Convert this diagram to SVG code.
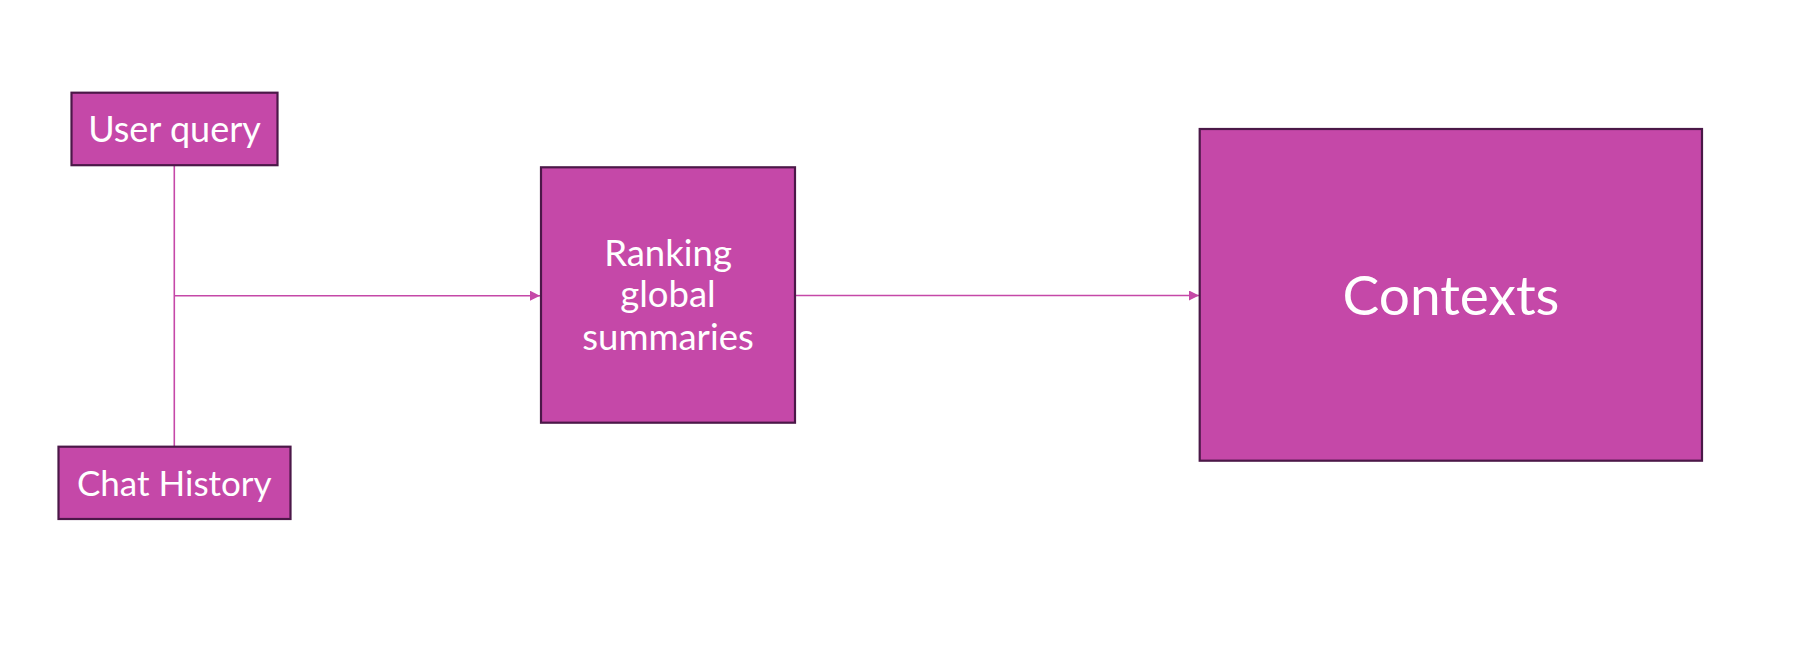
<svg xmlns="http://www.w3.org/2000/svg" width="1798" height="652" viewBox="0 0 1798 652">
<style>
.box{fill:#C548A8;stroke:#4B1848;stroke-width:2.2}
.lbl{fill:#FFFFFF;font-family:Lato,"Noto Sans","Liberation Sans",sans-serif;text-anchor:middle}
.conn{fill:none;stroke:#C548A8;stroke-width:1.6}
</style>
<defs>
<marker id="arr" viewBox="0 0 10 10" refX="10" refY="5" markerWidth="10" markerHeight="10" markerUnits="userSpaceOnUse" orient="auto">
<path d="M0,0 L10,5 L0,10 Z" fill="#C548A8"/>
</marker>
</defs>
<rect width="1798" height="652" fill="#FFFFFF"/>
<g id="connectors">
<line class="conn" x1="174.3" y1="165" x2="174.3" y2="447"/>
<line class="conn" x1="174.3" y1="295.7" x2="540" y2="295.7" marker-end="url(#arr)"/>
<line class="conn" x1="795" y1="295.5" x2="1199" y2="295.5" marker-end="url(#arr)"/>
</g>
<g id="user-query">
<rect class="box" x="71.5" y="92.7" width="206" height="72.5"/>
<text class="lbl" x="174.5" y="141.7" font-size="36">User query</text>
</g>
<g id="chat-history">
<rect class="box" x="58.5" y="446.7" width="232" height="72.3"/>
<text class="lbl" x="174.3" y="496" font-size="35">Chat History</text>
</g>
<g id="ranking">
<rect class="box" x="541" y="167.3" width="254" height="255.4"/>
<text class="lbl" x="668" y="266" font-size="36.5">Ranking</text>
<text class="lbl" x="668" y="307" font-size="36.5">global</text>
<text class="lbl" x="668" y="349.5" font-size="36.5">summaries</text>
</g>
<g id="contexts">
<rect class="box" x="1199.7" y="129" width="502.3" height="331.7"/>
<text class="lbl" x="1451" y="315" font-size="55">Contexts</text>
</g>
</svg>
